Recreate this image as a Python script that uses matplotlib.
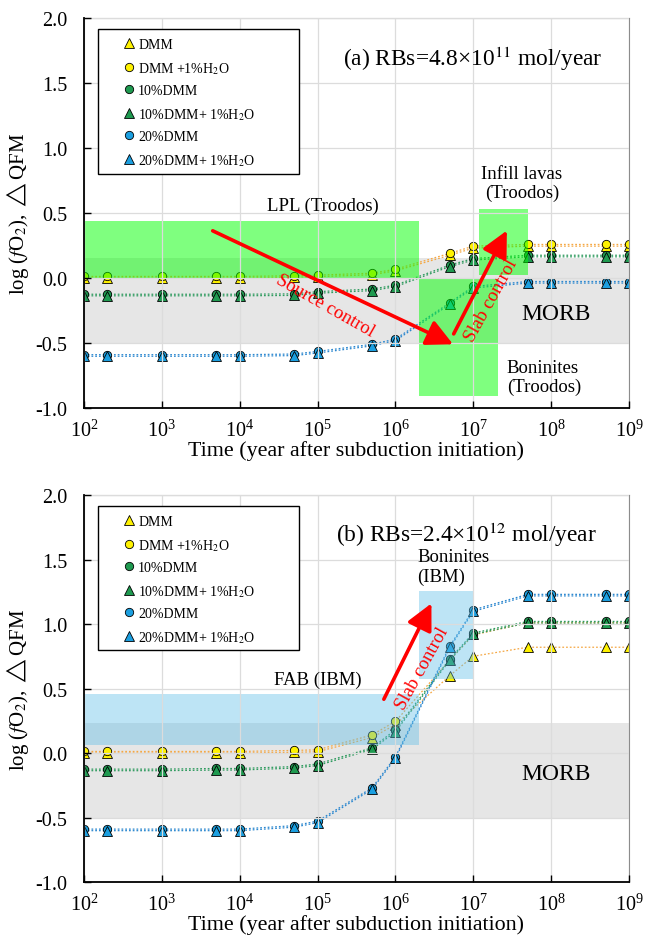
#!/usr/bin/env python3

import matplotlib
matplotlib.use('Agg')
import matplotlib.pyplot as plt
from matplotlib.patches import Rectangle
from matplotlib.ticker import LogFormatterMathtext, NullLocator, MultipleLocator, FixedLocator

plt.rcParams['font.family'] = ['Liberation Serif', 'DejaVu Sans']
plt.rcParams['mathtext.fontset'] = 'stix'
plt.rcParams['axes.unicode_minus'] = False

# time steps (year after subduction initiation)
time = [1e2, 2e2, 1e3, 5e3, 1e4, 5e4, 1e5, 5e5, 1e6, 5e6, 1e7, 5e7, 1e8, 5e8, 1e9]

# (a) RBs = 4.8e11 mol/year
a_dmm      = [0.000, 0.000, 0.000, 0.000, 0.000, 0.005, 0.010, 0.025, 0.055, 0.175, 0.230, 0.245, 0.245, 0.245, 0.245]
a_dmm_h2o  = [0.012, 0.012, 0.012, 0.012, 0.012, 0.017, 0.022, 0.037, 0.067, 0.190, 0.245, 0.258, 0.258, 0.258, 0.258]
a_d10      = [-0.125, -0.125, -0.125, -0.125, -0.125, -0.122, -0.105, -0.085, -0.055, 0.100, 0.150, 0.175, 0.175, 0.175, 0.175]
a_d10_h2o  = [-0.137, -0.137, -0.137, -0.137, -0.137, -0.134, -0.117, -0.097, -0.067, 0.088, 0.138, 0.163, 0.163, 0.163, 0.163]
a_d20      = [-0.590, -0.590, -0.590, -0.590, -0.590, -0.585, -0.565, -0.510, -0.470, -0.190, -0.065, -0.027, -0.027, -0.027, -0.027]
a_d20_h2o  = [-0.602, -0.602, -0.602, -0.602, -0.602, -0.597, -0.577, -0.522, -0.482, -0.202, -0.077, -0.039, -0.039, -0.039, -0.039]

# (b) RBs = 2.4e12 mol/year
b_dmm      = [0.000, 0.000, 0.000, 0.000, 0.000, 0.005, 0.010, 0.120, 0.220, 0.600, 0.750, 0.820, 0.820, 0.820, 0.820]
b_dmm_h2o  = [0.012, 0.012, 0.012, 0.012, 0.012, 0.020, 0.025, 0.140, 0.245, 0.720, 0.915, 1.010, 1.010, 1.010, 1.010]
b_d10      = [-0.125, -0.125, -0.125, -0.120, -0.120, -0.105, -0.085, 0.040, 0.180, 0.730, 0.930, 1.020, 1.020, 1.020, 1.020]
b_d10_h2o  = [-0.137, -0.137, -0.137, -0.132, -0.132, -0.117, -0.097, 0.028, 0.165, 0.720, 0.920, 1.008, 1.008, 1.008, 1.008]
b_d20      = [-0.590, -0.590, -0.590, -0.590, -0.590, -0.563, -0.528, -0.270, -0.030, 0.830, 1.110, 1.230, 1.230, 1.230, 1.230]
b_d20_h2o  = [-0.602, -0.602, -0.602, -0.602, -0.602, -0.575, -0.540, -0.282, -0.042, 0.818, 1.098, 1.218, 1.218, 1.218, 1.218]

labels = ['DMM', 'DMM +1%H$_2$O', '10%DMM', '10%DMM+ 1%H$_2$O', '20%DMM', '20%DMM+ 1%H$_2$O']
markers = ['^', 'o', 'o', '^', 'o', '^']
face = ['#fff200', '#fff200', '#1f9a50', '#1f9a50', '#1b9fe0', '#1b9fe0']
line_col = ['#f5a742', '#f5a742', '#2e9a5e', '#2e9a5e', '#2b87cf', '#2b87cf']

# observed fO2 ranges: (t_min, t_max, low, high)
morb_a = (1e2, 1e9, -0.50, 0.155)
morb_b = (1e2, 1e9, -0.50, 0.235)
lpl_troodos = (1e2, 2e6, 0.0, 0.44)
bon_troodos = (2e6, 2.1e7, -0.91, 0.0)
infill_troodos = (1.2e7, 5e7, 0.02, 0.53)
fab_ibm = (1e2, 2e6, 0.065, 0.455)
bon_ibm = (2e6, 1e7, 0.57, 1.255)

FS = 13.5      # annotations
AX_FS = 15     # axis labels / ticks


def box(ax, rng, color, alpha, z):
    ax.fill_between([rng[0], rng[1]], rng[2], rng[3], color=color, alpha=alpha,
                    linewidth=0, zorder=z)


def setup(ax, series, morb):
    box(ax, morb, '#e6e6e6', 1.0, 0.8)
    for i, ys in enumerate(series):
        ax.plot(time, ys, ls=(0, (1.4, 1.6)), lw=0.9, color=line_col[i], zorder=1.1)
    for i, ys in enumerate(series):
        ms = 7.3 if markers[i] == '^' else 6.0
        ax.plot(time, ys, ls='none', marker=markers[i], ms=ms, mfc=face[i],
                mec='black', mew=0.6, zorder=1.3 + 0.02 * i, label=labels[i])
    ax.set_xscale('log')
    ax.set_xlim(1e2, 1e9)
    ax.set_ylim(-1.0, 2.0)
    ax.xaxis.set_major_locator(FixedLocator([10.0 ** k for k in range(2, 10)]))
    ax.xaxis.set_major_formatter(LogFormatterMathtext())
    ax.xaxis.set_minor_locator(NullLocator())
    ax.yaxis.set_major_locator(MultipleLocator(0.5))
    ax.yaxis.set_major_formatter(plt.FuncFormatter(lambda v, p: '%.1f' % v))
    ax.set_axisbelow(False)
    ax.grid(True, color='#dcdcdc', lw=0.9)
    ax.tick_params(direction='in', length=5, labelsize=14.5, width=1)
    ax.tick_params(axis='x', pad=8)
    ax.tick_params(axis='y', pad=12)
    for s in ['left', 'bottom']:
        ax.spines[s].set_linewidth(1.3)
        ax.spines[s].set_zorder(6)
    for s in ['top', 'right']:
        ax.spines[s].set_color('#8c8c8c')
    ax.set_xlabel('Time (year after subduction initiation)', fontsize=AX_FS + 0.8, labelpad=0)
    ax.set_ylabel(r'log ($f$O$_2$), $\triangle$QFM', fontsize=AX_FS, labelpad=3)
    ax.add_patch(Rectangle((0.026, 0.60), 0.369, 0.372, transform=ax.transAxes,
                           facecolor='white', edgecolor='black', lw=1.0, zorder=5))
    ax.legend(loc='upper left', bbox_to_anchor=(0.07, 0.948), frameon=False,
              fontsize=10, handlelength=1.0, handletextpad=0.15, borderpad=0,
              borderaxespad=0, labelspacing=0.62).set_zorder(7)


def arrow(ax, tail, head):
    ax.annotate('', xy=head, xytext=tail, zorder=4,
                arrowprops=dict(arrowstyle='-|>,head_length=0.8,head_width=0.4',
                                color='#ff0000', lw=2.6, shrinkA=0, shrinkB=0,
                                mutation_scale=20))


fig = plt.figure(figsize=(6.46, 9.45), dpi=100)
ax1 = fig.add_axes([0.1300, 0.5672, 0.8437, 0.4127])
ax2 = fig.add_axes([0.1300, 0.0656, 0.8437, 0.4095])

# ---- (a)
setup(ax1, [a_dmm, a_dmm_h2o, a_d10, a_d10_h2o, a_d20, a_d20_h2o], morb_a)
box(ax1, lpl_troodos, '#00ff00', 0.5, 2)
box(ax1, bon_troodos, '#00ff00', 0.5, 2)
box(ax1, infill_troodos, '#00ff00', 0.5, 2)
ax1.text(1.17e5, 0.56, 'LPL (Troodos)', fontsize=FS, ha='center', va='center', zorder=4)
ax1.text(4.2e7, 0.73, 'Infill lavas\n(Troodos)', fontsize=FS, ha='center', va='center',
         linespacing=1.15, zorder=4)
ax1.text(2.7e7, -0.76, 'Boninites\n(Troodos)', fontsize=FS, ha='left', va='center',
         linespacing=1.15, zorder=4)
ax1.text(1.17e8, -0.27, 'MORB', fontsize=17, ha='center', va='center', zorder=4)
ax1.text(2.1e5, 1.69, '(a) RBs=4.8\u00d710$^{11}$ mol/year', fontsize=16.8,
         ha='left', va='center', zorder=4)
arrow(ax1, (4.5e3, 0.363), (5.5e6, -0.51))
ax1.text(1.25e5, -0.21, 'Source control', color='#ff0000', fontsize=FS, rotation=-29.5,
         ha='center', va='center', rotation_mode='anchor', zorder=4)
arrow(ax1, (5.6e6, -0.43), (2.7e7, 0.365))
ax1.text(1.72e7, -0.17, 'Slab control', color='#ff0000', fontsize=FS, rotation=61,
         ha='center', va='center', rotation_mode='anchor', zorder=4)

# ---- (b)
setup(ax2, [b_dmm, b_dmm_h2o, b_d10, b_d10_h2o, b_d20, b_d20_h2o], morb_b)
box(ax2, fab_ibm, '#5bbde8', 0.4, 2)
box(ax2, bon_ibm, '#5bbde8', 0.4, 2)
ax2.text(1.0e5, 0.57, 'FAB (IBM)', fontsize=FS, ha='center', va='center', zorder=4)
ax2.text(1.92e6, 1.445, 'Boninites\n(IBM)', fontsize=FS, ha='left', va='center',
         linespacing=1.15, zorder=4)
ax2.text(1.17e8, -0.16, 'MORB', fontsize=17, ha='center', va='center', zorder=4)
ax2.text(1.75e5, 1.70, '(b) RBs=2.4\u00d710$^{12}$ mol/year', fontsize=16.8,
         ha='left', va='center', zorder=4)
arrow(ax2, (7.1e5, 0.417), (2.9e6, 1.16))
ax2.text(2.2e6, 0.66, 'Slab control', color='#ff0000', fontsize=FS, rotation=61,
         ha='center', va='center', rotation_mode='anchor', zorder=4)

fig.savefig('out.png', dpi=100)
